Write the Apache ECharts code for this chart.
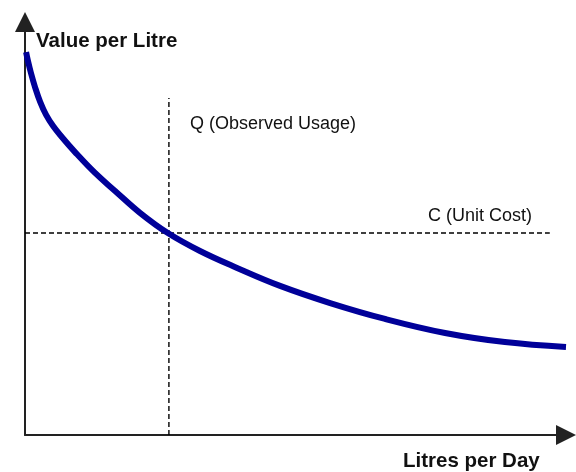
<!DOCTYPE html>
<html>
<head>
<meta charset="utf-8">
<script src="https://cdn.jsdelivr.net/npm/echarts@6/dist/echarts.min.js"></script>
<style>html,body{margin:0;padding:0;background:#fff}#c{width:576px;height:472px}</style>
</head>
<body>
<div id="c"></div>
<script>
// Demand curve (value per litre vs litres per day)
const demandX = [0.2, 0.55, 1.1, 1.85, 2.8, 3.9, 5.2, 6.65, 9.25, 12.95, 16.65, 21.25, 26.4,
                 32.35, 39.2, 47.15, 56.4, 66.55, 77.65, 88.7, 100];
const demandY = [92.7, 90.55, 87.65, 84.25, 80.65, 77.5, 74.8, 72.4, 68.5, 63.45, 59.1, 53.8, 48.9,
                 44.55, 40.45, 36.1, 31.95, 28.1, 24.7, 22.5, 21.3];
// Unit cost (horizontal dashed line) and its extent
const unitCost = 48.9;
const costLineX = [0, 97];
// Observed usage (vertical dashed line) and its extent
const observedUsage = 26.6;
const usageLineY = [0, 81.6];
// Texts
const yAxisTitle = 'Value per Litre';
const xAxisTitle = 'Litres per Day';
const usageLabel = 'Q (Observed Usage)';
const costLabel = 'C (Unit Cost)';

const chart = echarts.init(document.getElementById('c'), null, {renderer: 'canvas'});
const FONT = '"Liberation Sans", Arial, sans-serif';
const axisCommon = {
  type: 'value', min: 0, max: 100,
  axisLine: {show: true, symbol: ['none', 'triangle'], symbolSize: [20, 20],
    lineStyle: {color: '#222', width: 2}},
  axisTick: {show: false}, axisLabel: {show: false}, splitLine: {show: false}
};
chart.setOption({
  animation: false,
  backgroundColor: '#fff',
  grid: {left: 25, right: 10, top: 22, bottom: 37, containLabel: false},
  xAxis: Object.assign({}, axisCommon),
  yAxis: Object.assign({}, axisCommon),
  series: [
    {
      type: 'line', name: 'cost',
      data: costLineX.map(x => [x, unitCost]),
      symbol: 'none', lineStyle: {color: '#000', width: 1.4, type: [5, 3]}, z: 1
    },
    {
      type: 'line', name: 'usage',
      data: usageLineY.map(y => [observedUsage, y]),
      symbol: 'none', lineStyle: {color: '#000', width: 1.4, type: [5, 3]}, z: 1
    },
    {
      type: 'line', name: 'demand',
      data: demandX.map((x, i) => [x, demandY[i]]),
      smooth: 0.4, symbol: 'none',
      lineStyle: {color: '#000099', width: 6, cap: 'butt'}, z: 3
    }
  ],
  graphic: [
    {type: 'text', left: 36, top: 31, style: {text: yAxisTitle, font: 'bold 20.5px ' + FONT, fill: '#111'}},
    {type: 'text', left: 403, top: 451, style: {text: xAxisTitle, font: 'bold 20.5px ' + FONT, fill: '#111'}},
    {type: 'text', left: 190, top: 115, style: {text: usageLabel, font: '18px ' + FONT, fill: '#111'}},
    {type: 'text', left: 428, top: 207, style: {text: costLabel, font: '18px ' + FONT, fill: '#111'}}
  ]
});
</script>
</body>
</html>
